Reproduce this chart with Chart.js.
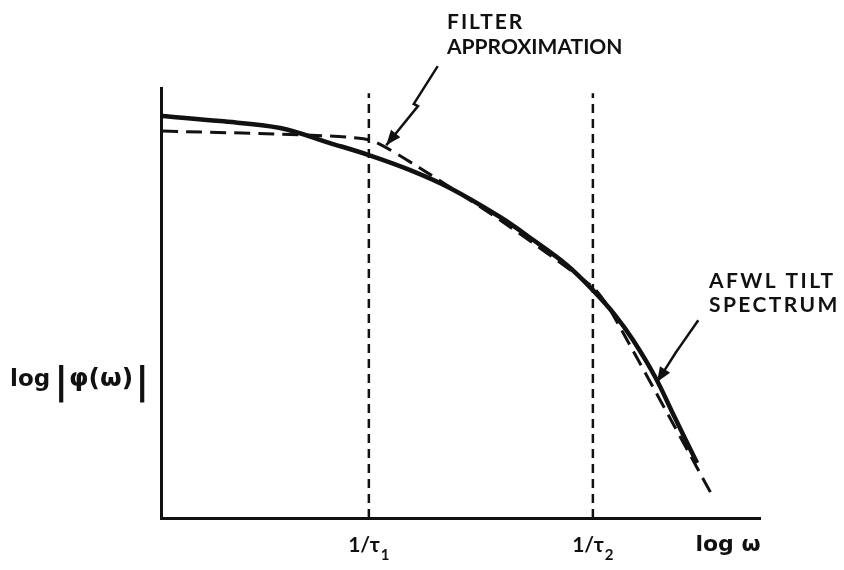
<!DOCTYPE html>
<html>
<head>
<meta charset="utf-8">
<script src="https://cdn.jsdelivr.net/npm/chart.js@4.4.1/dist/chart.umd.min.js"></script>
<style>
  html, body { margin: 0; padding: 0; background: #ffffff; }
  #wrap { width: 844px; height: 570px; }
</style>
</head>
<body>
<div id="wrap"><canvas id="c" width="844" height="570"></canvas></div>
<script>
// Values (x: position along log ω axis, 0..100; y: log|φ(ω)|, 0..100)
const spectrumX = [0.2, 9.9, 19.9, 28.2, 34.7, 41.6, 48.3, 56.6, 62.1, 67.8, 72.1, 75.8, 78.8, 82.5, 85.8, 89.5];
const spectrumY = [93.5, 92.3, 90.7, 87.2, 84.4, 80.9, 76.7, 70.0, 64.7, 58.8, 53.0, 47.2, 41.4, 32.8, 23.3, 12.8];

const filterX = [0.2, 23.2, 34.9, 43.2, 56.6, 72.1, 75.0, 92.0];
const filterY = [90.0, 89.1, 87.9, 81.4, 69.3, 53.7, 48.4, 5.3];

const breakX = [34.7, 72.1];           // 1/τ1, 1/τ2
const breakMain = ['1/τ', '1/τ'];
const breakSub = ['1', '2'];
const breakTop = 98.8;

const filterArrowX = [46.2, 42.2, 42.9, 37.6];
const filterArrowY = [105.1, 96.3, 95.8, 86.7];
const afwlArrowX = [89.7, 86.6, 86.0, 82.8];
const afwlArrowY = [46.0, 39.8, 38.6, 31.6];

const xAxisLabel = 'log ω';
const yAxisLabel = ['log', '|', 'φ(ω)', '|'];
const filterNote = ['FILTER', 'APPROXIMATION'];
const afwlNote = ['AFWL TILT', 'SPECTRUM'];

const INK = '#111111';
const pts = (xs, ys) => xs.map((x, i) => ({ x: x, y: ys[i] }));

const datasets = [
  {
    label: 'AFWL tilt spectrum',
    data: pts(spectrumX, spectrumY),
    borderColor: INK, borderWidth: 4.5, pointRadius: 0, tension: 0.35, fill: false
  },
  {
    label: 'Filter approximation',
    data: pts(filterX, filterY),
    borderColor: INK, borderWidth: 3, pointRadius: 0, tension: 0.2,
    borderDash: [16, 8], fill: false
  }
];
breakX.forEach((bx, i) => {
  datasets.push({
    label: breakMain[i] + breakSub[i],
    data: [{ x: bx, y: 0 }, { x: bx, y: breakTop }],
    borderColor: INK, borderWidth: 2.5, pointRadius: 0, borderDash: [9, 6],
    fill: false, clip: false
  });
});
datasets.push({
  label: 'arrowFilter', isArrow: true,
  data: pts(filterArrowX, filterArrowY),
  borderColor: INK, borderWidth: 2.5, pointRadius: 0, fill: false, clip: false
});
datasets.push({
  label: 'arrowAfwl', isArrow: true,
  data: pts(afwlArrowX, afwlArrowY),
  borderColor: INK, borderWidth: 2.5, pointRadius: 0, fill: false, clip: false
});

function spaced(ctx, text, x, y, sp) {
  if ('letterSpacing' in ctx) {
    ctx.letterSpacing = sp + 'px';
    ctx.fillText(text, x, y);
    ctx.letterSpacing = '0px';
  } else {
    let cx = x;
    for (const ch of text) { ctx.fillText(ch, cx, y); cx += ctx.measureText(ch).width + sp; }
  }
}

const decor = {
  id: 'decor',
  afterDatasetsDraw(chart) {
    const ctx = chart.ctx;
    const xs = chart.scales.x, ys = chart.scales.y;
    ctx.save();
    ctx.fillStyle = INK;
    // arrow heads
    chart.data.datasets.forEach(ds => {
      if (!ds.isArrow) return;
      const n = ds.data.length;
      const p1 = ds.data[n - 2], p2 = ds.data[n - 1];
      const x1 = xs.getPixelForValue(p1.x), y1 = ys.getPixelForValue(p1.y);
      const x2 = xs.getPixelForValue(p2.x), y2 = ys.getPixelForValue(p2.y);
      const a = Math.atan2(y2 - y1, x2 - x1);
      const L = 15, W = 6;
      ctx.beginPath();
      ctx.moveTo(x2, y2);
      ctx.lineTo(x2 - L * Math.cos(a) + W * Math.sin(a), y2 - L * Math.sin(a) - W * Math.cos(a));
      ctx.lineTo(x2 - L * Math.cos(a) - W * Math.sin(a), y2 - L * Math.sin(a) + W * Math.cos(a));
      ctx.closePath();
      ctx.fill();
    });
    const F = 'bold 21px Lato, "DejaVu Sans", sans-serif';
    ctx.font = F;
    ctx.textBaseline = 'alphabetic';
    ctx.textAlign = 'left';
    // notes
    spaced(ctx, filterNote[0], 447, 29, 2);
    ctx.fillText(filterNote[1], 447, 54);
    spaced(ctx, afwlNote[0], 709, 288, 2.4);
    spaced(ctx, afwlNote[1], 709, 312, 2.4);
    // x labels
    const base = chart.chartArea.bottom;
    breakX.forEach((bx, i) => {
      const cx = xs.getPixelForValue(bx);
      ctx.font = F;
      const w1 = ctx.measureText(breakMain[i]).width;
      ctx.font = 'bold 15px Lato, "DejaVu Sans", sans-serif';
      const w2 = ctx.measureText(breakSub[i]).width;
      const left = cx - (w1 + w2 + 1) / 2;
      ctx.font = F;
      ctx.fillText(breakMain[i], left, base + 34);
      ctx.font = 'bold 15px Lato, "DejaVu Sans", sans-serif';
      ctx.fillText(breakSub[i], left + w1 + 1, base + 42);
    });
    ctx.font = 'bold 22px "DejaVu Sans", sans-serif';
    ctx.textAlign = 'center';
    ctx.fillText(xAxisLabel, 728, base + 33);
    // y label
    ctx.textAlign = 'left';
    let x = 10;
    const yb = 386;
    yAxisLabel.forEach((t, i) => {
      if (t === '|') {
        ctx.font = 'bold 38px "DejaVu Sans", sans-serif';
        ctx.fillText(t, x, yb + 7);
        x += ctx.measureText(t).width + 1;
      } else if (i === 0) {
        ctx.font = 'bold 23px "DejaVu Sans", sans-serif';
        ctx.fillText(t, x, yb);
        x += ctx.measureText(t).width + 4;
      } else {
        ctx.font = 'bold 25px "DejaVu Sans", sans-serif';
        ctx.fillText(t, x, yb);
        x += ctx.measureText(t).width + 2;
      }
    });
    ctx.restore();
  }
};

new Chart(document.getElementById('c'), {
  type: 'line',
  data: { datasets: datasets },
  options: {
    responsive: false,
    animation: false,
    layout: { padding: { left: 161, right: 84, top: 88, bottom: 52 } },
    plugins: { legend: { display: false }, tooltip: { enabled: false } },
    scales: {
      x: {
        type: 'linear', min: 0, max: 100,
        grid: { display: false },
        ticks: { display: false },
        border: { display: true, color: INK, width: 3 },
        afterFit(scale) { scale.height = 0; }
      },
      y: {
        type: 'linear', min: 0, max: 100,
        grid: { display: false },
        ticks: { display: false },
        border: { display: true, color: INK, width: 3 },
        afterFit(scale) { scale.width = 0; }
      }
    }
  },
  plugins: [decor]
});
</script>
</body>
</html>
